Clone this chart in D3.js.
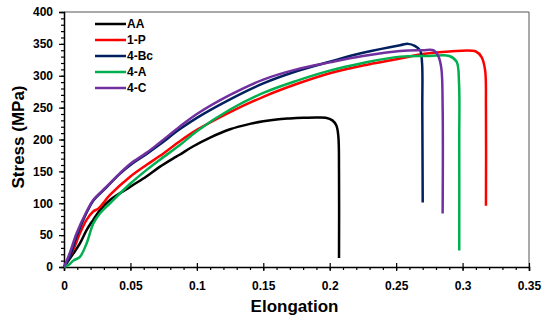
<!DOCTYPE html>
<html>
<head>
<meta charset="utf-8">
<script src="https://cdn.jsdelivr.net/npm/d3@7"></script>
<style>
  body { margin: 0; background: #fff; }
  text { font-family: "Liberation Sans", Arial, sans-serif; font-weight: bold; }
</style>
</head>
<body>
<div id="chart"></div>
<script>
// series names + colours (legend order)
var seriesNames = ["AA", "1-P", "4-Bc", "4-A", "4-C"];
var seriesColors = ["#000000", "#ff0000", "#002060", "#00b050", "#7030a0"];

// [elongation, stress MPa]
var aaData = [[0,0],[0.007,21],[0.012,37],[0.017,58],[0.022,74],[0.027,89],[0.0346,105],[0.05,126],[0.062,142],
  [0.072,157],[0.082,170],[0.087,176],[0.097,189],[0.11,203],[0.125,216],[0.14,224.5],[0.15,228.5],[0.16,231.5],
  [0.17,233],[0.18,234],[0.19,234.5],[0.197,234],[0.202,230],[0.205,222],[0.2065,205],[0.207,150],[0.207,14]];
var p1Data = [[0,0],[0.007,27],[0.012,53],[0.017,74],[0.022,87],[0.026,92],[0.0346,113],[0.05,142],[0.062,160],
  [0.072,174],[0.087,197],[0.1,215],[0.125,243],[0.15,267],[0.175,287],[0.2,304],[0.225,316],[0.253,327],[0.27,334],
  [0.29,338],[0.31,338],[0.3144,329],[0.317,308],[0.3176,250],[0.3176,96]];
var bcData = [[0,0],[0.004,14],[0.0095,48],[0.017,85],[0.022,104],[0.032,125],[0.042,146],[0.05,160],[0.062,177],
  [0.072,192],[0.087,216],[0.1,234],[0.125,263],[0.15,288],[0.175,307],[0.2,322],[0.225,336],[0.253,348],[0.259,350],
  [0.264,347],[0.268,340],[0.2695,320],[0.2697,250],[0.27,101]];
var aData = [[0,0],[0.004,4],[0.007,10],[0.012,16],[0.017,37],[0.022,68],[0.027,84],[0.0346,100],[0.05,131],[0.062,152],
  [0.072,168],[0.087,191],[0.1,213],[0.125,247],[0.15,273],[0.175,292],[0.2,308],[0.225,320],[0.253,330],[0.275,331],
  [0.29,331],[0.2955,322],[0.2973,290],[0.2975,200],[0.2975,26]];
var cData = [[0,0],[0.004,20],[0.0095,53],[0.017,87],[0.022,105],[0.032,126],[0.042,147],[0.05,162],[0.062,179],
  [0.072,195],[0.087,220],[0.1,240],[0.125,270],[0.15,294],[0.175,310],[0.2,321],[0.225,331],[0.253,339],[0.27,340],
  [0.278,340],[0.2815,332],[0.284,312],[0.285,250],[0.285,84]];
var allSeries = [aaData, p1Data, bcData, aData, cData];

var xTicks = [0, 0.05, 0.1, 0.15, 0.2, 0.25, 0.3, 0.35];
var yTicks = [0, 50, 100, 150, 200, 250, 300, 350, 400];

var svgWidth = 550;
var svgHeight = 322;
var margin = { top: 12, right: 21, bottom: 55, left: 64 };
var width = svgWidth - margin.left - margin.right;
var height = svgHeight - margin.top - margin.bottom;

var svg = d3.select("#chart").append("svg")
  .attr("width", svgWidth)
  .attr("height", svgHeight);

var chartGroup = svg.append("g")
  .attr("transform", `translate(${margin.left}, ${margin.top})`);

var x = d3.scaleLinear().domain([0, 0.35]).range([0, width]);
var y = d3.scaleLinear().domain([0, 400]).range([height, 0]);

// frame (top + right)
chartGroup.append("path")
  .attr("d", `M0,0H${width}V${height}`)
  .attr("fill", "none")
  .attr("stroke", "#555")
  .attr("stroke-width", 1);

// minor ticks
chartGroup.append("g")
  .attr("transform", `translate(0, ${height})`)
  .call(d3.axisBottom(x).tickValues(d3.range(0, 0.3501, 0.01)).tickSize(3).tickFormat(""))
  .call(g => g.select(".domain").remove());
chartGroup.append("g")
  .call(d3.axisLeft(y).tickValues(d3.range(0, 401, 10)).tickSize(3).tickFormat(""))
  .call(g => g.select(".domain").remove());

// major axes
var xAxis = chartGroup.append("g")
  .attr("transform", `translate(0, ${height})`)
  .call(d3.axisBottom(x).tickValues(xTicks).tickSize(4).tickPadding(10).tickFormat(d => String(+d.toFixed(2))));
xAxis.selectAll(".tick line").attr("y1", -4);

var yAxis = chartGroup.append("g")
  .call(d3.axisLeft(y).tickValues(yTicks).tickSize(5).tickPadding(6));

[xAxis, yAxis].forEach(function(g) {
  g.select(".domain").attr("stroke-width", 1.5);
  g.selectAll(".tick text")
    .style("font-size", "12px")
    .style("font-family", "'Liberation Sans', Arial, sans-serif")
    .style("font-weight", "bold")
    .attr("fill", "#000");
});
chartGroup.selectAll(".tick line").attr("stroke", "#000").attr("stroke-width", 1.2);

// curves
var line = d3.line()
  .x(d => x(d[0]))
  .y(d => y(d[1]))
  .curve(d3.curveCatmullRom.alpha(0.5));

chartGroup.selectAll(".series")
  .data(allSeries)
  .enter()
  .append("path")
  .attr("class", "series")
  .attr("d", line)
  .attr("fill", "none")
  .attr("stroke", (d, i) => seriesColors[i])
  .attr("stroke-width", 2.5)
  .attr("stroke-linejoin", "round");

// legend
var legend = svg.append("g").attr("transform", "translate(95, 24)");
seriesNames.forEach(function(name, i) {
  var row = legend.append("g").attr("transform", `translate(0, ${i * 16})`);
  row.append("line")
    .attr("x1", 0).attr("x2", 31)
    .attr("stroke", seriesColors[i])
    .attr("stroke-width", 2.5);
  row.append("text")
    .attr("x", 32)
    .attr("dy", "0.35em")
    .style("font-size", "12px")
    .text(name);
});

// axis titles
svg.append("text")
  .attr("x", margin.left + width / 2 - 2)
  .attr("y", 312)
  .attr("text-anchor", "middle")
  .style("font-size", "17px")
  .text("Elongation");

svg.append("text")
  .attr("transform", "translate(24, 137) rotate(-90)")
  .attr("text-anchor", "middle")
  .style("font-size", "17px")
  .text("Stress (MPa)");
</script>
</body>
</html>
